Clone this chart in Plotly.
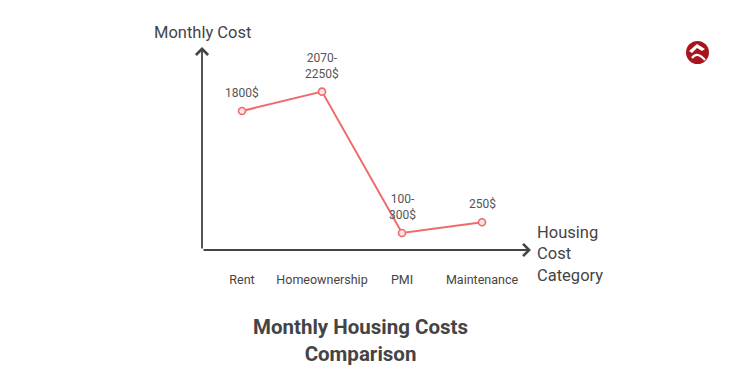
import plotly.graph_objects as go

categories = ["Rent", "Homeownership", "PMI", "Maintenance"]
values = [1800, 2070, 100, 250]
labels = ["1800$", "2070-<br>2250$", "100-<br>300$", "250$"]

W, H = 750, 375
OFF = 8  # page offset of the figure
L, T = 202 - OFF, 48 - OFF
R, B = W - (530 - OFF), H - (250 - OFF)
pw, ph = W - L - R, H - T - B

def px(x):
    return (x - OFF - L) / pw

def py(y):
    return (H - B - (y - OFF)) / ph

red = "#ef6a6a"
axis_col = "#444444"
font = "Roboto"

fig = go.Figure()
fig.add_trace(go.Scatter(
    x=list(range(len(categories))), y=values,
    mode="lines+markers",
    line=dict(color=red, width=2),
    marker=dict(size=7, color="#fbe3e3", line=dict(color=red, width=1.6)),
    cliponaxis=False, hoverinfo="skip",
))
for i, (v, t) in enumerate(zip(values, labels)):
    fig.add_annotation(x=i, y=v, text=t, showarrow=False, yanchor="bottom",
                       xanchor="center", yshift=9, align="center",
                       font=dict(family=font, size=12, color="#555555"))

fig.update_xaxes(range=[-0.5, 3.6], showgrid=False, zeroline=False, showline=False,
                 tickvals=list(range(len(categories))), ticktext=categories,
                 ticks="", ticklabelstandoff=20,
                 tickfont=dict(family=font, size=12.5, color="#444444"))
fig.update_yaxes(range=[-137, 2678], showgrid=False, zeroline=False, showline=False,
                 showticklabels=False, ticks="")

# axis arrows
fig.add_annotation(x=px(531), y=0, ax=0, ay=0, xref="x domain", yref="y domain",
                   axref="x domain", ayref="y domain", text="", showarrow=True,
                   arrowhead=4, arrowsize=1.3, arrowwidth=1.8, arrowcolor=axis_col)
fig.add_annotation(x=0, y=py(47), ax=0, ay=0, xref="x domain", yref="y domain",
                   axref="x domain", ayref="y domain", text="", showarrow=True,
                   arrowhead=4, arrowsize=1.3, arrowwidth=1.8, arrowcolor=axis_col)

fig.add_annotation(x=px(202), y=py(33), xref="paper", yref="paper", text="Monthly Cost",
                   showarrow=False, font=dict(family=font, size=16.5, color="#444444"),
                   xanchor="center", yanchor="middle")
fig.add_annotation(x=px(535), y=py(254), xref="paper", yref="paper",
                   text="Housing<br>Cost<br>Category", align="left",
                   showarrow=False, font=dict(family=font, size=16.5, color="#444444"),
                   xanchor="left", yanchor="middle")
fig.add_annotation(x=px(360), y=py(340), xref="paper", yref="paper",
                   text="<b>Monthly Housing Costs<br>Comparison</b>", align="center",
                   showarrow=False, font=dict(family=font, size=20.5, color="#444444"),
                   xanchor="center", yanchor="middle")

# logo
fig.add_shape(type="circle", xref="paper", yref="paper",
              x0=px(686), x1=px(709), y0=py(64), y1=py(41),
              fillcolor="#a8141c", line=dict(width=0))
fig.add_shape(type="path", xref="paper", yref="paper",
              path=(f"M {px(689)} {py(51)} L {px(697)} {py(44)} L {px(705)} {py(49)} "
                    f"L {px(702)} {py(51)} L {px(697)} {py(48)} L {px(692)} {py(53)} Z"),
              fillcolor="white", line=dict(width=0))
fig.add_shape(type="path", xref="paper", yref="paper",
              path=f"M {px(692)} {py(58)} Q {px(697)} {py(51)} {px(705)} {py(60)}",
              line=dict(color="white", width=2.2))

fig.update_layout(width=W, height=H, margin=dict(l=L, r=R, t=T, b=B),
                  paper_bgcolor="white", plot_bgcolor="white", showlegend=False,
                  font=dict(family=font))
fig.write_html("out.html")
